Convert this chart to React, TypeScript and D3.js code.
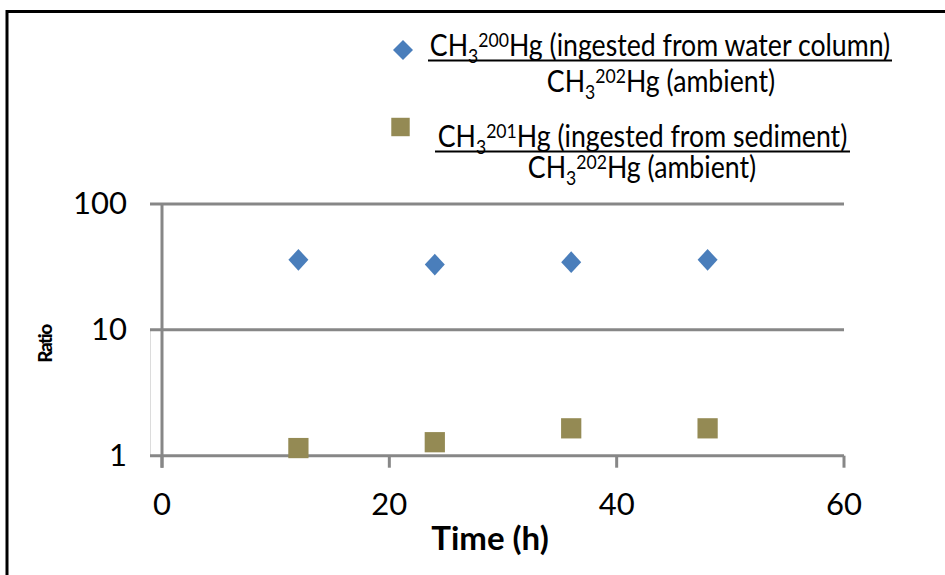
import React from "react";
import * as d3 from "d3";

const times = [12, 24, 36, 48];
const waterRatio = [36, 33, 34.5, 36];
const sedimentRatio = [1.15, 1.28, 1.65, 1.65];
const xTicks = [0, 20, 40, 60];
const yTicks = [1, 10, 100];
const xLabel = "Time (h)";
const yLabel = "Ratio";

const FONT = "Lato, 'Open Sans', sans-serif";

function Formula({ cx, y, iso, rest, underline, size, sx, halfW }: any) {
  const small = size * 0.66;
  return (
    <g transform={`translate(${cx},${y}) scale(${sx},1)`}>
      <text x={0} y={0} textAnchor="middle" fontFamily={FONT} fontSize={size} fill="#000">
        <tspan>CH</tspan>
        <tspan fontSize={small} dy={7}>3</tspan>
        <tspan fontSize={small} dy={-16}>{iso}</tspan>
        <tspan dy={9}>{"Hg " + rest}</tspan>
      </text>
      {underline ? (
        <line x1={-halfW / sx} x2={halfW / sx} y1={4.5} y2={4.5} stroke="#000" strokeWidth={2} />
      ) : null}
    </g>
  );
}

export default function App() {
  const W = 945;
  const H = 575;
  const x = d3.scaleLinear().domain([0, 60]).range([162, 844]);
  const y = d3.scaleLog().domain([1, 100]).range([455.7, 204]);
  const grid = "#878787";
  const diamond = d3.symbol().type(d3.symbolSquare).size(200)();
  const square = d3.symbol().type(d3.symbolSquare).size(410)();

  return (
    <svg
      width={W}
      height={H}
      style={{ position: "absolute", left: 0, top: 0, background: "#fff" }}
    >
      <rect x={0} y={0} width={W} height={H} fill="#fff" />
      {/* frame */}
      <rect x={7} y={11.5} width={1000} height={700} fill="none" stroke="#000" strokeWidth={3} />

      {/* faint line */}
      <line x1={150.5} x2={150.5} y1={y(10)} y2={y(1)} stroke="#dcdcdc" strokeWidth={1} />

      {/* gridlines */}
      {yTicks.map((t) => (
        <line key={"g" + t} x1={150} x2={x(60)} y1={y(t)} y2={y(t)} stroke={grid} strokeWidth={3} />
      ))}
      {/* y axis */}
      <line x1={x(0)} x2={x(0)} y1={y(100)} y2={y(1) + 12} stroke={grid} strokeWidth={3} />
      {/* x ticks */}
      {xTicks.map((t) => (
        <line key={"xt" + t} x1={x(t)} x2={x(t)} y1={y(1)} y2={y(1) + 12} stroke={grid} strokeWidth={3} />
      ))}

      {/* y tick labels */}
      {yTicks.map((t) => (
        <text key={"yl" + t} x={127} y={y(t) + 10} textAnchor="end" fontFamily={FONT} fontSize={31} fill="#000">
          {t}
        </text>
      ))}
      {/* x tick labels */}
      {xTicks.map((t) => (
        <text key={"xl" + t} x={x(t)} y={515} textAnchor="middle" fontFamily={FONT} fontSize={31} fill="#000">
          {t}
        </text>
      ))}

      <text x={490} y={550} textAnchor="middle" fontFamily={FONT} fontWeight={700} fontSize={33} fill="#000">
        {xLabel}
      </text>
      <text
        transform={`translate(52,344) rotate(-90)`}
        textAnchor="middle"
        fontFamily={FONT}
        fontWeight={900}
        fontSize={19}
        letterSpacing={-1.5}
        fill="#000"
      >
        {yLabel}
      </text>

      {/* data */}
      {times.map((t, i) => (
        <path
          key={"s" + i}
          d={square as string}
          transform={`translate(${x(t)},${y(sedimentRatio[i])})`}
          fill="#948A54"
        />
      ))}
      {times.map((t, i) => (
        <path
          key={"d" + i}
          d={diamond as string}
          transform={`translate(${x(t)},${y(waterRatio[i])}) scale(1,1.08) rotate(45)`}
          fill="#4A7EBB"
        />
      ))}

      {/* legend */}
      <path d={diamond as string} transform="translate(403,50) rotate(45)" fill="#4A7EBB" />
      <path d={d3.symbol().type(d3.symbolSquare).size(340)() as string} transform="translate(400.5,127)" fill="#948A54" />
      <Formula cx={660} y={56} iso="200" rest="(ingested from water column)" underline size={30} sx={0.89} halfW={232} />
      <Formula cx={661} y={92} iso="202" rest="(ambient)" size={30} sx={0.89} />
      <Formula cx={642.5} y={147} iso="201" rest="(ingested from sediment)" underline size={30} sx={0.89} halfW={207.5} />
      <Formula cx={642} y={178} iso="202" rest="(ambient)" size={30} sx={0.89} />
    </svg>
  );
}
